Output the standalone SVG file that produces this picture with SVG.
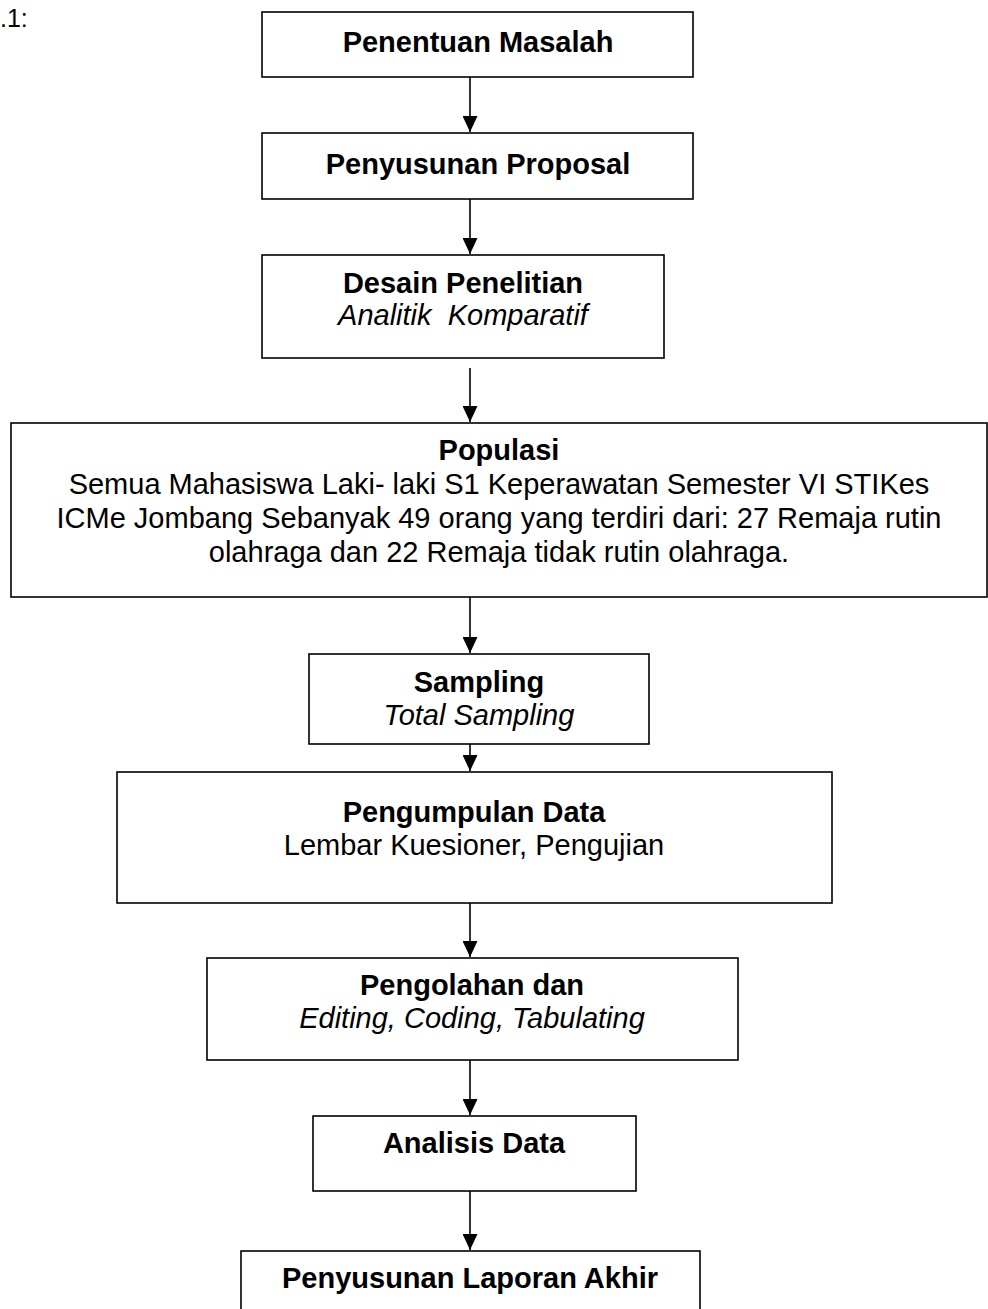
<svg xmlns="http://www.w3.org/2000/svg" width="988" height="1309" viewBox="0 0 988 1309">
  <style>
    .box { fill: #ffffff; stroke: #000000; stroke-width: 1.6; }
    .t { font-family: "Liberation Sans", Arial, sans-serif; font-size: 29px; fill: #000000; text-anchor: middle; }
    .b { font-weight: bold; }
    .i { font-style: italic; }
    .link { stroke: #000000; stroke-width: 1.6; fill: none; marker-end: url(#arrow); }
  </style>
  <defs>
    <!-- solid triangular head, tip at the end of the line -->
    <marker id="arrow" markerUnits="userSpaceOnUse" viewBox="0 0 16 15" markerWidth="16" markerHeight="15" refX="16" refY="7.5" orient="auto">
      <path d="M0,0 L16,7.5 L0,15 Z" fill="#000000"/>
    </marker>
  </defs>
  <rect width="988" height="1309" fill="#ffffff"/>

  <text class="t" x="0" y="27" style="text-anchor:start;font-size:25px">.1:</text>

  <g id="penentuan-masalah">
    <rect class="box" x="262" y="12" width="431" height="65"/>
    <text class="t b" x="478" y="52">Penentuan Masalah</text>
  </g>

  <g id="penyusunan-proposal">
    <rect class="box" x="262" y="133" width="431" height="66"/>
    <text class="t b" x="478" y="174">Penyusunan Proposal</text>
  </g>

  <g id="desain-penelitian">
    <rect class="box" x="262" y="255" width="402" height="103"/>
    <text class="t b" x="463" y="293">Desain Penelitian</text>
    <text class="t i" x="463" y="325" xml:space="preserve">Analitik  Komparatif</text>
  </g>

  <g id="populasi">
    <rect class="box" x="11" y="423" width="976" height="174"/>
    <text class="t b" x="499" y="460">Populasi</text>
    <text class="t" x="499" y="494">Semua Mahasiswa Laki- laki S1 Keperawatan Semester VI STIKes</text>
    <text class="t" x="499" y="528">ICMe Jombang Sebanyak 49 orang yang terdiri dari: 27 Remaja rutin</text>
    <text class="t" x="499" y="562">olahraga dan 22 Remaja tidak rutin olahraga.</text>
  </g>

  <g id="sampling">
    <rect class="box" x="309" y="654" width="340" height="90"/>
    <text class="t b" x="479" y="692">Sampling</text>
    <text class="t i" x="479" y="725">Total Sampling</text>
  </g>

  <g id="pengumpulan-data">
    <rect class="box" x="117" y="772" width="715" height="131"/>
    <text class="t b" x="474" y="822">Pengumpulan Data</text>
    <text class="t" x="474" y="855">Lembar Kuesioner, Pengujian</text>
  </g>

  <g id="pengolahan">
    <rect class="box" x="207" y="958" width="531" height="102"/>
    <text class="t b" x="472" y="995">Pengolahan dan</text>
    <text class="t i" x="472" y="1028">Editing, Coding, Tabulating</text>
  </g>

  <g id="analisis-data">
    <rect class="box" x="313" y="1116" width="323" height="75"/>
    <text class="t b" x="474" y="1153">Analisis Data</text>
  </g>

  <g id="penyusunan-laporan">
    <rect class="box" x="241" y="1251" width="459" height="80"/>
    <text class="t b" x="470" y="1288">Penyusunan Laporan Akhir</text>
  </g>

  <g id="connectors">
    <line class="link" x1="470" y1="77" x2="470" y2="132"/>
    <line class="link" x1="470" y1="199" x2="470" y2="254"/>
    <line class="link" x1="470" y1="368" x2="470" y2="422"/>
    <line class="link" x1="470" y1="597" x2="470" y2="653"/>
    <line class="link" x1="470" y1="744" x2="470" y2="771"/>
    <line class="link" x1="470" y1="903" x2="470" y2="957"/>
    <line class="link" x1="470" y1="1060" x2="470" y2="1115"/>
    <line class="link" x1="470" y1="1191" x2="470" y2="1250"/>
  </g>
</svg>
